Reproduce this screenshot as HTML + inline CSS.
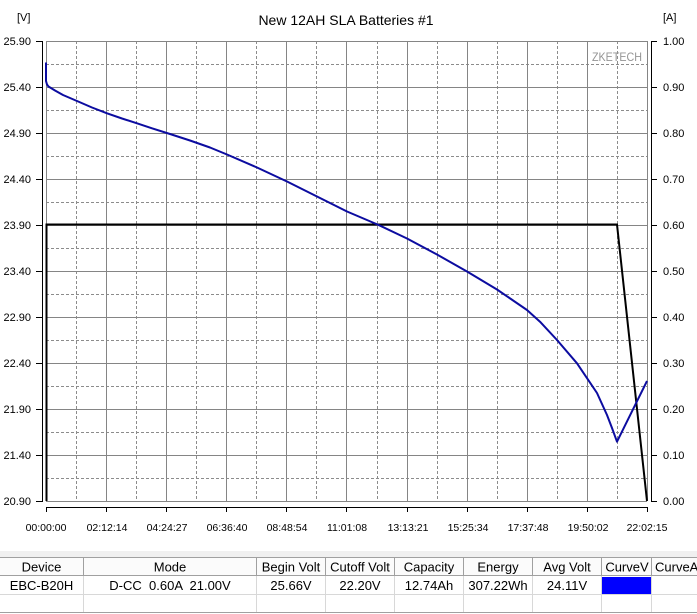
<!DOCTYPE html>
<html><head><meta charset="utf-8"><style>
html,body{margin:0;padding:0;background:#fff;}
body{width:697px;height:614px;overflow:hidden;}
svg{display:block;font-family:"Liberation Sans",Arial,sans-serif;}
</style></head><body>
<svg width="697" height="614" viewBox="0 0 697 614" xmlns="http://www.w3.org/2000/svg">
<rect width="697" height="614" fill="#fff"/>
<!-- title -->
<text x="346" y="25" font-size="14" text-anchor="middle" fill="#000">New 12AH SLA Batteries #1</text>
<text x="17" y="21" font-size="11" fill="#000">[V]</text>
<text x="663" y="21" font-size="11" fill="#000">[A]</text>

<!-- dashed grid -->
<g stroke="#8c8c8c" stroke-width="1" stroke-dasharray="3,2" fill="none" shape-rendering="crispEdges">
<path d="M46,64.5H647M46,110.5H647M46,156.5H647M46,202.5H647M46,248.5H647M46,294.5H647M46,340.5H647M46,386.5H647M46,432.5H647M46,478.5H647"/>
<path d="M76.5,41V501M136.5,41V501M196.5,41V501M256.5,41V501M316.5,41V501M377.5,41V501M437.5,41V501M497.5,41V501M557.5,41V501M617.5,41V501"/>
</g>
<!-- solid grid -->
<g stroke="#858585" stroke-width="1" fill="none" shape-rendering="crispEdges">
<path d="M46,41.5H647M46,87.5H647M46,133.5H647M46,179.5H647M46,225.5H647M46,271.5H647M46,317.5H647M46,363.5H647M46,409.5H647M46,455.5H647M46,501.5H647"/>
<path d="M46.5,41V501M106.5,41V501M166.5,41V501M226.5,41V501M286.5,41V501M346.5,41V501M407.5,41V501M467.5,41V501M527.5,41V501M587.5,41V501M647.5,41V501"/>
</g>

<text x="642" y="61" font-size="12" text-anchor="end" fill="#959595" textLength="50" lengthAdjust="spacingAndGlyphs">ZKETECH</text>

<!-- axes -->
<g stroke="#000" stroke-width="1" fill="none" shape-rendering="crispEdges">
<path d="M42.5,41V502"/>
<path d="M36,41.5H42M36,87.5H42M36,133.5H42M36,179.5H42M36,225.5H42M36,271.5H42M36,317.5H42M36,363.5H42M36,409.5H42M36,455.5H42M36,501.5H42"/>
<path d="M651.5,41V502"/>
<path d="M651,41.5H657M651,87.5H657M651,133.5H657M651,179.5H657M651,225.5H657M651,271.5H657M651,317.5H657M651,363.5H657M651,409.5H657M651,455.5H657M651,501.5H657"/>
<path d="M46,507.5H648"/>
<path d="M46.5,507V512M106.5,507V512M166.5,507V512M226.5,507V512M286.5,507V512M346.5,507V512M407.5,507V512M467.5,507V512M527.5,507V512M587.5,507V512M647.5,507V512"/>
</g>

<g font-size="11" fill="#000" text-anchor="end">
<text x="31" y="45">25.90</text>
<text x="31" y="91">25.40</text>
<text x="31" y="137">24.90</text>
<text x="31" y="183">24.40</text>
<text x="31" y="229">23.90</text>
<text x="31" y="275">23.40</text>
<text x="31" y="321">22.90</text>
<text x="31" y="367">22.40</text>
<text x="31" y="413">21.90</text>
<text x="31" y="459">21.40</text>
<text x="31" y="505">20.90</text>
</g>
<g font-size="11" fill="#000">
<text x="663" y="45">1.00</text>
<text x="663" y="91">0.90</text>
<text x="663" y="137">0.80</text>
<text x="663" y="183">0.70</text>
<text x="663" y="229">0.60</text>
<text x="663" y="275">0.50</text>
<text x="663" y="321">0.40</text>
<text x="663" y="367">0.30</text>
<text x="663" y="413">0.20</text>
<text x="663" y="459">0.10</text>
<text x="663" y="505">0.00</text>
</g>
<g font-size="10.5" fill="#000" text-anchor="middle">
<text x="46" y="531">00:00:00</text>
<text x="107" y="531">02:12:14</text>
<text x="167" y="531">04:24:27</text>
<text x="227" y="531">06:36:40</text>
<text x="287" y="531">08:48:54</text>
<text x="347" y="531">11:01:08</text>
<text x="408" y="531">13:13:21</text>
<text x="468" y="531">15:25:34</text>
<text x="528" y="531">17:37:48</text>
<text x="588" y="531">19:50:02</text>
<text x="647" y="531">22:02:15</text>
</g>

<!-- current -->
<path d="M46.5,501 L46.5,224.5 L617,224.5 L647,501" fill="none" stroke="#000" stroke-width="2"/>
<!-- voltage -->
<path d="M46,62.5 L46,81 L47,84.5 L48.5,86.5 L55,90.5 L63,95 L77,101 L92,107.5 L107,113.3 L122,118.5 L137,123.3 L152,128.3 L170,134 L190,140.5 L210,147.5 L227,154.5 L257,167.5 L287,181.5 L317,196.5 L347,211.5 L377.5,224.5 L407,238.5 L437,254.5 L467,271.5 L497,289.5 L527,310 L540,321.7 L557,340 L577,363.3 L597,393 L607,415 L612,428 L617,441.7 L647,381" fill="none" stroke="#0c0ca0" stroke-width="2" stroke-linejoin="round"/>

<!-- table -->
<rect x="0" y="551" width="697" height="6" fill="#f0f0f0"/>
<rect x="0" y="557" width="697" height="19" fill="#fbfbfb"/>
<g stroke="#a0a0a0" stroke-width="1" fill="none" shape-rendering="crispEdges">
<path d="M0,557.5H697M0,575.5H697M0,612.5H697"/>
<path d="M83.5,557V576M256.5,557V576M325.5,557V576M394.5,557V576M463.5,557V576M532.5,557V576M601.5,557V576M651.5,557V576"/>
</g>
<g stroke="#d8d8d8" stroke-width="1" fill="none" shape-rendering="crispEdges">
<path d="M0,594.5H697"/>
<path d="M83.5,576V612M256.5,576V612M325.5,576V612M394.5,576V612M463.5,576V612M532.5,576V612M601.5,576V612M651.5,576V612"/>
</g>
<rect x="602" y="577" width="49" height="17" fill="#0000ff"/>
<g font-size="13" fill="#000" text-anchor="middle">
<text x="41.5" y="571.5">Device</text>
<text x="170" y="571.5">Mode</text>
<text x="291" y="571.5">Begin Volt</text>
<text x="360" y="571.5">Cutoff Volt</text>
<text x="429" y="571.5">Capacity</text>
<text x="498" y="571.5">Energy</text>
<text x="567" y="571.5">Avg Volt</text>
<text x="627" y="571.5">CurveV</text>
<text x="41.5" y="590">EBC-B20H</text>
<text x="170" y="590" xml:space="preserve">D-CC  0.60A  21.00V</text>
<text x="291" y="590">25.66V</text>
<text x="360" y="590">22.20V</text>
<text x="429" y="590">12.74Ah</text>
<text x="498" y="590">307.22Wh</text>
<text x="567" y="590">24.11V</text>
</g>
<text x="655" y="571.5" font-size="13" fill="#000">CurveA</text>
</svg>
</body></html>
